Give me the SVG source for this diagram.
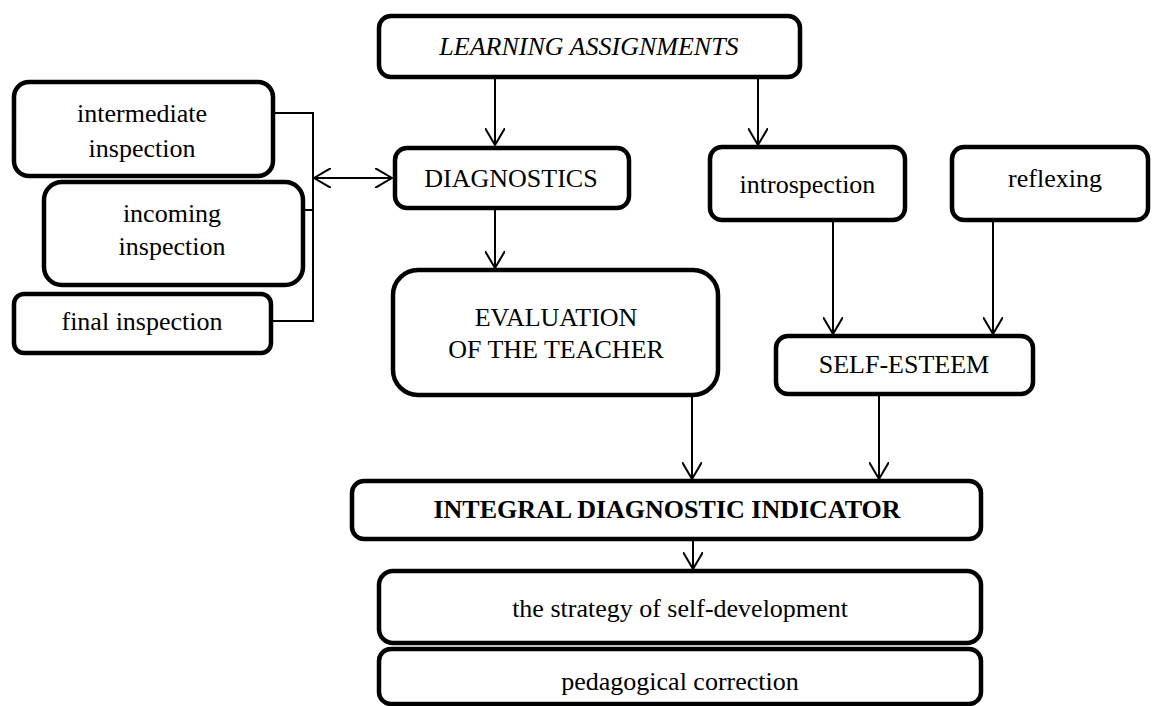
<svg xmlns="http://www.w3.org/2000/svg" width="1153" height="706" viewBox="0 0 1153 706">
<style>
.box{fill:#fff;stroke:#000;stroke-width:4.5}
.t{font-family:'Liberation Serif',serif;font-size:26px;fill:#000;text-anchor:middle}
.c{fill:none;stroke:#000;stroke-width:2}
</style>
<defs>
<marker id="ah" viewBox="0 0 18 20" refX="17" refY="10" markerWidth="18" markerHeight="20" markerUnits="userSpaceOnUse" orient="auto-start-reverse">
<path d="M0,0 L17,10 L0,20" fill="none" stroke="#000" stroke-width="2"/>
</marker>
</defs>
<rect width="1153" height="706" fill="#fff"/>
<g id="connectors">
<line class="c" x1="495" y1="79" x2="495" y2="145" marker-end="url(#ah)"/>
<line class="c" x1="758" y1="79" x2="758" y2="145" marker-end="url(#ah)"/>
<line class="c" x1="495" y1="210" x2="495" y2="268" marker-end="url(#ah)"/>
<line class="c" x1="833" y1="222" x2="833" y2="334" marker-end="url(#ah)"/>
<line class="c" x1="993" y1="222" x2="993" y2="334" marker-end="url(#ah)"/>
<line class="c" x1="692" y1="397" x2="692" y2="479" marker-end="url(#ah)"/>
<line class="c" x1="879" y1="396" x2="879" y2="479" marker-end="url(#ah)"/>
<line class="c" x1="693" y1="541" x2="693" y2="569" marker-end="url(#ah)"/>
<polyline class="c" points="275,113 313,113 313,321 273,321"/>
<line class="c" x1="305" y1="210" x2="313" y2="210"/>
<line class="c" x1="314" y1="178" x2="392" y2="178" marker-start="url(#ah)" marker-end="url(#ah)"/>
</g>
<g id="learning">
<rect class="box" x="379" y="16" width="421" height="61" rx="12"/>
<text class="t" x="589" y="55" font-style="italic">LEARNING ASSIGNMENTS</text>
</g>
<g id="diagnostics">
<rect class="box" x="395" y="148" width="234" height="60" rx="12"/>
<text class="t" x="511" y="187">DIAGNOSTICS</text>
</g>
<g id="introspection">
<rect class="box" x="710" y="147" width="195" height="73" rx="12"/>
<text class="t" x="807.5" y="193">introspection</text>
</g>
<g id="reflexing">
<rect class="box" x="952" y="147" width="196" height="73" rx="12"/>
<text class="t" x="1055" y="187">reflexing</text>
</g>
<g id="evaluation">
<rect class="box" x="393" y="270" width="325" height="125" rx="25"/>
<text class="t" x="556" y="326">EVALUATION</text>
<text class="t" x="556" y="358">OF THE TEACHER</text>
</g>
<g id="selfesteem">
<rect class="box" x="776" y="336" width="257" height="58" rx="12"/>
<text class="t" x="904" y="373">SELF-ESTEEM</text>
</g>
<g id="integral">
<rect class="box" x="352" y="481" width="629" height="58" rx="12"/>
<text class="t" x="667" y="518" font-weight="bold">INTEGRAL DIAGNOSTIC INDICATOR</text>
</g>
<g id="strategy">
<rect class="box" x="379" y="571" width="602" height="72" rx="14"/>
<text class="t" x="680" y="617">the strategy of self-development</text>
</g>
<g id="correction">
<rect class="box" x="379" y="649" width="602" height="55" rx="12"/>
<text class="t" x="680" y="690">pedagogical correction</text>
</g>
<g id="intermediate">
<rect class="box" x="14" y="82" width="259" height="94" rx="15"/>
<text class="t" x="142" y="122">intermediate</text>
<text class="t" x="142" y="157">inspection</text>
</g>
<g id="incoming">
<rect class="box" x="44" y="182" width="259" height="103" rx="18"/>
<text class="t" x="172" y="222">incoming</text>
<text class="t" x="172" y="255">inspection</text>
</g>
<g id="final">
<rect class="box" x="14" y="294" width="257" height="59" rx="10"/>
<text class="t" x="142" y="330">final inspection</text>
</g>
</svg>
